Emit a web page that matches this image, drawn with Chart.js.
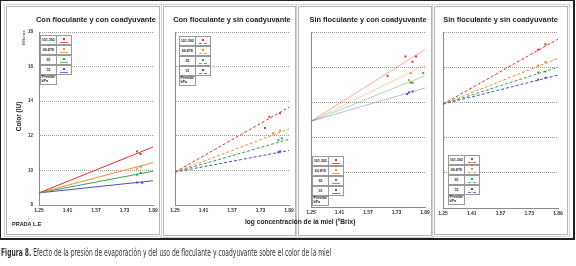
<!DOCTYPE html>
<html>
<head>
<meta charset="utf-8">
<script src="https://cdn.jsdelivr.net/npm/chart.js@4/dist/chart.umd.min.js"></script>
<style>
  body { margin: 0; width: 576px; height: 266px; background: #fff; position: relative; overflow: hidden; font-family: "Liberation Sans", Arial, sans-serif; color: #222; }
  .marco { position: absolute; left: 0; top: 0; width: 572px; height: 237px; border: 1px solid #222; border-width: 1px 2px 2px 1px; }
  .panel { position: absolute; border: 1px solid #b5b5b5; box-shadow: 0 0 0 1px #fff, 0 0 0 2px #d0d0d0; background: #fff; }
  canvas { position: absolute; top: 0; }
  .titulo { position: absolute; top: 15px; font-weight: bold; font-size: 7.4px; white-space: nowrap; text-align: center; }
  .leyenda { position: absolute; font-size: 3.6px; font-weight: bold; background: #fff; }
  .fila { display: flex; height: 10px; }
  .celda { box-sizing: border-box; border: 0.6px solid #999; margin: -0.3px; display: flex; align-items: center; justify-content: center; position: relative; background: #fff; }
  .marca { position: absolute; left: 50%; top: 2.5px; width: 2px; height: 2px; margin-left: -1px; }
  .raya { position: absolute; left: 20%; right: 20%; top: 6px; height: 0; border-top: 0.7px solid; }
  .rot { position: absolute; transform: rotate(-90deg); transform-origin: center; white-space: nowrap; font-weight: bold; }
  .texto { position: absolute; font-weight: bold; white-space: nowrap; }
  #pie { position: absolute; left: 1px; top: 247px; font-family: "Liberation Sans Narrow", "DejaVu Sans Condensed", sans-serif; font-size: 10px; color: #333; white-space: nowrap; transform-origin: left top; }
</style>
</head>
<body>
<div class="marco"></div>

<script>
// valores de los ejes
const xTicks = [1.25, 1.41, 1.57, 1.73, 1.89];
const yTicks = [8, 10, 12, 14, 16, 18];

// presión (kPa) de cada serie
const presiones = ['101.392', '69.878', '35', '15'];
const colores = ['#e0312c', '#f0902e', '#2ea84a', '#4a4fc0'];

const titulos = [
  'Con floculante y con coadyuvante',
  'Con floculante y sin coadyuvante',
  'Sin floculante y con coadyuvante',
  'Sin floculante y sin coadyuvante'
];

// rectas de tendencia: [color en 1.25, color en 1.89] (millones IU)
const lineasP1 = [[8.7, 11.35], [8.7, 10.45], [8.7, 9.95], [8.7, 9.4]];
const lineasP2 = [[9.9, 13.65], [9.9, 12.4], [9.9, 11.8], [9.9, 11.15]];
const lineasP3 = [[12.9, 17.0], [12.9, 16.1], [12.9, 15.5], [12.9, 14.8]];
const lineasP4 = [[13.9, 17.6], [13.9, 16.5], [13.9, 16.0], [13.9, 15.55]];

// puntos medidos [log °Brix, color]
const puntosP1 = [
  [[1.80, 11.1], [1.82, 10.95]],
  [[1.80, 10.1], [1.82, 10.2]],
  [[1.80, 9.75], [1.82, 9.85]],
  [[1.80, 9.3], [1.83, 9.28]]
];
const puntosP2 = [
  [[1.78, 13.1], [1.755, 12.45], [1.84, 13.3]],
  [[1.80, 12.15], [1.84, 12.3]],
  [[1.83, 11.75], [1.85, 11.85]],
  [[1.83, 11.05], [1.84, 11.1]]
];
const puntosP3 = [
  [[1.78, 16.6], [1.84, 16.6], [1.82, 16.3], [1.68, 15.5]],
  [[1.81, 15.65], [1.80, 15.25]],
  [[1.81, 15.1], [1.82, 15.1], [1.88, 15.65]],
  [[1.80, 14.55], [1.82, 14.6], [1.79, 14.45]]
];
const puntosP4 = [
  [[1.82, 17.3], [1.78, 17.0]],
  [[1.82, 16.3], [1.78, 16.1]],
  [[1.78, 15.7], [1.82, 15.75]],
  [[1.78, 15.3], [1.82, 15.4]]
];

// disposición de cada panel
const paneles = [
  { lineas: lineasP1, puntos: puntosP1, marco: [6, 6, 152, 227], area: [39, 153, 32, 205], guion: [], ejeY: true, alfa: 1, leyenda: [40, 35] },
  { lineas: lineasP2, puntos: puntosP2, marco: [163, 6, 131, 228], area: [175, 289, 32, 205], guion: [3, 2], ejeY: false, alfa: 1, leyenda: [179, 36] },
  { lineas: lineasP3, puntos: puntosP3, marco: [298, 6, 132, 228], area: [311, 425, 32, 207], guion: [], ejeY: false, alfa: 0.45, leyenda: [312, 156] },
  { lineas: lineasP4, puntos: puntosP4, marco: [434, 6, 132, 227], area: [443, 558, 32, 208], guion: [3, 2], ejeY: false, alfa: 1, leyenda: [448, 155] }
];

function conAlfa(hex, a) {
  const r = parseInt(hex.slice(1, 3), 16), g = parseInt(hex.slice(3, 5), 16), b = parseInt(hex.slice(5, 7), 16);
  return `rgba(${r}, ${g}, ${b}, ${a})`;
}

function crearLeyenda(p) {
  const ley = document.createElement('div');
  ley.className = 'leyenda';
  ley.style.left = p.leyenda[0] + 'px';
  ley.style.top = p.leyenda[1] + 'px';
  presiones.forEach((pr, i) => {
    const fila = document.createElement('div');
    fila.className = 'fila';
    const estilo = p.guion.length ? 'dashed' : 'solid';
    fila.innerHTML = `<div class="celda" style="width:17px">${pr}</div>
      <div class="celda" style="width:16px"><span class="marca" style="background:${colores[i]}"></span>
      <span class="raya" style="border-top-style:${estilo};border-color:${conAlfa(colores[i], 0.8)}"></span></div>`;
    ley.appendChild(fila);
  });
  const ult = document.createElement('div');
  ult.className = 'fila';
  ult.innerHTML = '<div class="celda" style="width:17px;flex-direction:column;line-height:3.8px">Presión<br>kPa</div>';
  ley.appendChild(ult);
  document.body.appendChild(ley);
}

function crearPanel(p, n) {
  const marco = document.createElement('div');
  marco.className = 'panel';
  marco.style.left = p.marco[0] + 'px';
  marco.style.top = p.marco[1] + 'px';
  marco.style.width = p.marco[2] + 'px';
  marco.style.height = p.marco[3] + 'px';
  document.body.appendChild(marco);

  const [x0, x1, y0, y1] = p.area;
  const anchoY = 39, padDer = 10, alto = 240;
  const canvas = document.createElement('canvas');
  canvas.width = x1 - x0 + anchoY + padDer;
  canvas.height = alto;
  canvas.style.left = (x0 - anchoY) + 'px';
  document.body.appendChild(canvas);

  const datasets = [];
  p.lineas.forEach((l, i) => {
    datasets.push({
      data: [{ x: xTicks[0], y: l[0] }, { x: xTicks[xTicks.length - 1], y: l[1] }],
      showLine: true,
      borderColor: conAlfa(colores[i], p.alfa),
      borderWidth: p.alfa < 1 ? 0.9 : 1,
      borderDash: p.guion,
      pointRadius: 0
    });
  });
  p.puntos.forEach((pts, i) => {
    datasets.push({
      data: pts.map(([x, y]) => ({ x: x, y: y })),
      showLine: false,
      pointStyle: 'rect',
      pointRadius: 1.4,
      backgroundColor: colores[i],
      borderColor: colores[i],
      borderWidth: 0
    });
  });

  new Chart(canvas, {
    type: 'scatter',
    data: { datasets: datasets },
    options: {
      responsive: false,
      animation: false,
      devicePixelRatio: 1,
      layout: { padding: { left: 0, right: padDer, top: y0, bottom: 0 } },
      plugins: { legend: { display: false }, tooltip: { enabled: false } },
      scales: {
        x: {
          type: 'linear',
          min: xTicks[0],
          max: xTicks[xTicks.length - 1],
          afterBuildTicks: s => { s.ticks = xTicks.map(v => ({ value: v })); },
          afterFit: s => { s.height = alto - y1; },
          ticks: {
            callback: v => v.toFixed(2),
            font: { size: 5, weight: 'bold', family: 'Liberation Sans' },
            color: '#333',
            padding: 3,
            maxRotation: 0,
            autoSkip: false
          },
          grid: { display: false, drawTicks: false },
          border: { color: '#8c8c8c', width: 1 }
        },
        y: {
          type: 'linear',
          min: yTicks[0],
          max: yTicks[yTicks.length - 1],
          afterBuildTicks: s => { s.ticks = yTicks.map(v => ({ value: v })); },
          afterFit: s => { s.width = anchoY; },
          ticks: {
            display: p.ejeY,
            font: { size: 4.5, weight: 'bold', family: 'Liberation Sans' },
            color: '#333',
            padding: 6
          },
          grid: { color: '#9a9a9a', lineWidth: 1, drawTicks: false },
          border: { color: '#8c8c8c', width: 1, dash: [1, 1] }
        }
      }
    }
  });

  const t = document.createElement('div');
  t.className = 'titulo';
  t.textContent = titulos[n];
  t.style.left = (x0 - 10) + 'px';
  t.style.width = (x1 - x0 + 20) + 'px';
  document.body.appendChild(t);

  crearLeyenda(p);
}

paneles.forEach(crearPanel);
</script>

<div class="rot" style="left:10px;top:35px;font-size:4px;font-weight:normal;width:26px;text-align:center">Millones</div>
<div class="rot" style="left:-4px;top:113px;font-size:6.5px;width:44px;text-align:center">Color (IU)</div>
<div class="texto" style="left:245px;top:218px;font-size:6.6px">log concentración de la miel (°Brix)</div>
<div class="texto" style="left:12px;top:221px;font-size:5.5px;font-weight:bold">PRADA L.E</div>
<div id="pie"><b>Figura 8.</b> Efecto de la presión de evaporación y del uso de floculante y coadyuvante sobre el color de la miel</div>

<script>
  // ajusta el pie de figura al ancho del original
  const pie = document.getElementById('pie');
  pie.style.transform = 'scaleX(' + (330 / pie.offsetWidth) + ')';
</script>
</body>
</html>
